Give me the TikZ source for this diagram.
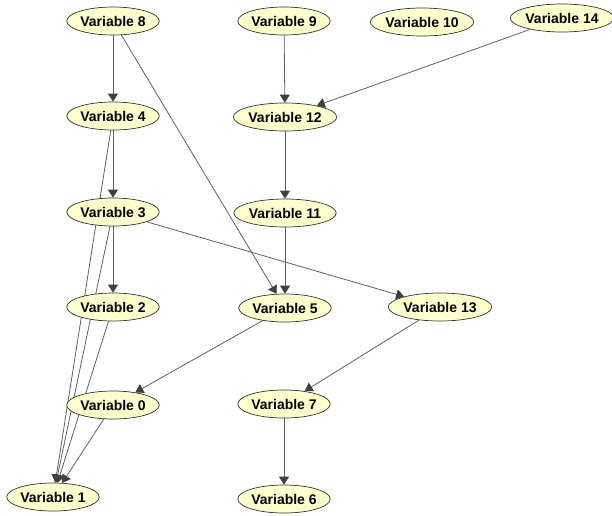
\documentclass[tikz,border=0pt]{standalone}
\usepackage{fontspec}
\setmainfont{Liberation Sans}
\usepackage{tikz}
\usetikzlibrary{shapes.geometric}
\usetikzlibrary{arrows.meta}
\usetikzlibrary{backgrounds}

\definecolor{nodefill}{RGB}{255,255,204}
\definecolor{edgegray}{RGB}{96,96,96}
\definecolor{tipgray}{RGB}{64,64,64}

\begin{document}
\begin{tikzpicture}[x=1pt,y=-1pt,
    varnode/.style={ellipse,draw=black!80,line width=0.7pt,fill=nodefill,
      inner sep=0pt,minimum width=90pt,minimum height=28pt,
      font=\fontsize{14}{16}\selectfont\bfseries},
    varwide/.style={varnode,minimum width=97pt},
    edge/.style={draw=edgegray,line width=0.8pt,
      -{Triangle[length=8pt,width=10pt,color=tipgray]}}]
    \useasboundingbox (0,0) rectangle (612,515);

    \node [varnode] (v8)  at (113,21)  {Variable 8};
    \node [varnode] (v9)  at (284,21)  {Variable 9};
    \node [varwide] (v10) at (422,22)  {Variable 10};
    \node [varwide] (v14) at (562,18)  {Variable 14};

    \node [varnode] (v4)  at (113,116) {Variable 4};
    \node [varwide] (v12) at (285,117) {Variable 12};

    \node [varnode] (v3)  at (113,212) {Variable 3};
    \node [varwide] (v11) at (285,213) {Variable 11};

    \node [varnode] (v2)  at (113,307) {Variable 2};
    \node [varnode] (v5)  at (285,308) {Variable 5};
    \node [varwide] (v13) at (440,307) {Variable 13};

    \node [varnode] (v0)  at (113,405) {Variable 0};
    \node [varnode] (v7)  at (284,404) {Variable 7};

    \node [varnode] (v1)  at (53,497)  {Variable 1};
    \node [varnode] (v6)  at (284,499) {Variable 6};

    \begin{pgfonlayer}{background}
    \draw [edge] (v8) -- (v4);
    \draw [edge] (v8) -- (v5);
    \draw [edge] (v9) -- (v12);
    \draw [edge] (v14) -- (v12);
    \draw [edge] (v4) -- (v3);
    \draw [edge] (v4) -- (v1);
    \draw [edge] (v12) -- (v11);
    \draw [edge] (v3) -- (v2);
    \draw [edge] (v3) -- (v1);
    \draw [edge] (v3) -- (v13);
    \draw [edge] (v11) -- (v5);
    \draw [edge] (v2) -- (v1);
    \draw [edge] (v5) -- (v0);
    \draw [edge] (v13) -- (v7);
    \draw [edge] (v0) -- (v1);
    \draw [edge] (v7) -- (v6);
    \end{pgfonlayer}
  \end{tikzpicture}
\end{document}
